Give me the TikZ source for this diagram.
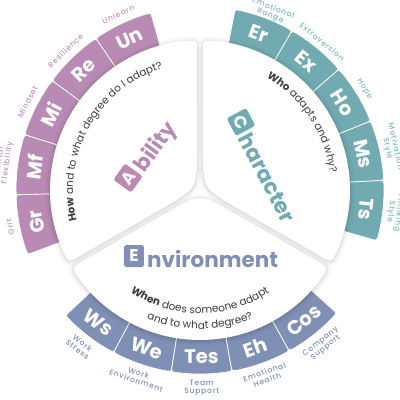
\documentclass[tikz,border=0pt]{standalone}
\usepackage{fontspec}
\setmainfont{Poppins}
\newfontfamily\lblfont[LetterSpace=10]{Poppins Medium}
\usetikzlibrary{calc,decorations.text}
\definecolor{abil}{HTML}{B98AB4}
\definecolor{abilL}{HTML}{C496C2}
\definecolor{chr}{HTML}{72AAB1}
\definecolor{chrL}{HTML}{7FBAC1}
\definecolor{env}{HTML}{8090B5}
\definecolor{envL}{HTML}{7F8EBB}
\definecolor{qtext}{HTML}{3C3C3C}
\newcommand\tabshape[2]{%
  \fill[#2, draw=white, line width=0.7pt]
    ({#1-9.5}:135pt) -- ({#1-9.5}:178pt) .. controls ({#1-9.5}:184pt) .. ({#1-9.5+1.9}:184pt)
    arc[start angle={#1-9.5+1.9}, end angle={#1+9.5-1.9}, radius=184pt]
    .. controls ({#1+9.5}:184pt) .. ({#1+9.5}:178pt) -- ({#1+9.5}:135pt)
    arc[start angle={#1+9.5}, end angle={#1-9.5}, radius=135pt] -- cycle;}
\newcommand\ppath[2]{(pA#1) -- (qA#1) .. controls (cA#1) .. (oA#1) arc[start angle={#2+5.7}, end angle={#2+114.3}, radius=150pt] .. controls (cB#1) .. (qB#1) -- (pB#1) .. controls (ap#1) .. (pA#1) -- cycle}
\begin{document}
\begin{tikzpicture}[x=1pt,y=1pt,
  tabtxt/.style={text=white, font=\bfseries\fontsize{19.5}{19.5}\selectfont, inner sep=0},
  lbl/.style={font=\lblfont\fontsize{7.6}{8}\selectfont, align=center, inner sep=0},
  lbox/.style={minimum width=20pt, minimum height=22pt, rounded corners=2.5pt, inner sep=0, text=white, font=\bfseries\fontsize{17}{17}\selectfont},
  word/.style={anchor=base west, inner sep=0, font=\bfseries\fontsize{21.5}{21.5}\selectfont}]
\fill[white] (-200,-210) rectangle (200,190);
\useasboundingbox (-200,-210) rectangle (200,190);
% tabs
\foreach \ang/\ab/\lb in {115/Un/Unlearn,134/Re/Resilience,153/Mi/Mindset,172/Mf/{Mental\\Flexibility},191/Gr/Grit}{
  \tabshape{\ang}{abil}
  \node[tabtxt, rotate=\ang-90] (tab-\ab) at (\ang:167pt) {\ab};
  \node[lbl, text=abilL, rotate=\ang-90, anchor=south] (lbl-\ab) at (\ang:190.5pt) {\lb};
}
\foreach \ang/\ab/\lb/\la/\rr in {69.5/Er/{Emotional\\Range}/68/183.5,50.5/Ex/Extraversion/50.5/189,31.5/Ho/Hope/31.5/189,12.5/Ms/{Motivation\\Style}/12.5/188,-6.5/Ts/{Thinking\\Style}/-6.5/188}{
  \tabshape{\ang}{chr}
  \node[tabtxt, rotate=\ang-90] (tab-\ab) at (\ang:167pt) {\ab};
  \node[lbl, text=chrL, rotate=\la-90, anchor=south] (lbl-\ab) at (\la:\rr pt) {\lb};
}
\foreach \ang/\ab/\lb in {232.5/Ws/{Work\\Stress},251.5/We/{Work\\Environment},270.5/Tes/{Team\\Support},289.5/Eh/{Emotional\\Health},308.5/Cos/{Company\\Support}}{
  \tabshape{\ang}{env}
  \node[tabtxt, rotate=\ang+90] (tab-\ab) at (\ang:167pt) {\ab};
  \node[lbl, text=envL, rotate=\ang+90, anchor=north] (lbl-\ab) at (\ang:190pt) {\lb};
}
% panel geometry
\foreach \s/\n in {210/E,-30/C,90/A}{
  \coordinate (ap\n) at ({\s+60}:3.46pt);
  \coordinate (pA\n) at ($(ap\n)+(\s:38pt)$);
  \coordinate (qA\n) at ($(\s:138pt)+({\s+90}:3pt)$);
  \coordinate (cA\n) at ($(\s:150pt)+({\s+90}:3pt)$);
  \coordinate (oA\n) at ({\s+5.7}:150pt);
  \coordinate (oB\n) at ({\s+114.3}:150pt);
  \coordinate (cB\n) at ($({\s+120}:150pt)+({\s+30}:3pt)$);
  \coordinate (qB\n) at ($({\s+120}:138pt)+({\s+30}:3pt)$);
  \coordinate (pB\n) at ($(ap\n)+({\s+120}:38pt)$);
}
\begin{scope}[transform canvas={yshift=-1pt}]
\foreach \w/\o in {10/0.02,7/0.025,4/0.03,2/0.035}{
  \foreach \n/\s in {E/210,C/-30,A/90}{
    \draw[line width=\w pt, black, opacity=\o, line join=round] \ppath{\n}{\s};
  }}
\end{scope}
\foreach \n/\s in {E/210,C/-30,A/90}{\fill[white] \ppath{\n}{\s};}
% words
\begin{scope}[shift={(-72pt,12pt)}, rotate=54, transform shape]
  \node[lbox, fill=abil] (boxA) at (0,0) {A};
  \node[word, text=abil] (wordA) at (13pt,-11pt) {bility};
\end{scope}
\begin{scope}[shift={(41pt,68pt)}, rotate=-62, transform shape]
  \node[lbox, fill=chr] (boxC) at (0,0) {C};
  \node[word, text=chr] (wordC) at (13pt,-11pt) {haracter};
\end{scope}
\begin{scope}[shift={(-66pt,-66pt)}]
  \node[lbox, fill=env] (boxE) at (0,0) {E};
  \node[word, text=env] (wordE) at (13pt,-11pt) {nvironment};
\end{scope}
% questions
{\fontsize{10.5}{12}\selectfont
\path[decorate, decoration={text along path, text color=qtext, text align=center,
  text={|\bfseries|How|\mdseries| and to what degree do I adapt?}}]
  (205:127pt) arc[start angle=205, end angle=96, radius=127pt];
\path[decorate, decoration={text along path, text color=qtext, text align=center,
  text={|\bfseries|Who|\mdseries| adapts and why?}}]
  (70:131pt) arc[start angle=70, end angle=-3, radius=131pt];
\path[decorate, decoration={text along path, text color=qtext, text align=center,
  text={|\bfseries|When|\mdseries| does someone adapt}}]
  (225:123.5pt) arc[start angle=225, end angle=315, radius=123.5pt];
\path[decorate, decoration={text along path, text color=qtext, text align=center,
  text={and to what degree?}}]
  (235:139pt) arc[start angle=235, end angle=305, radius=139pt];
}
\end{tikzpicture}
\end{document}
